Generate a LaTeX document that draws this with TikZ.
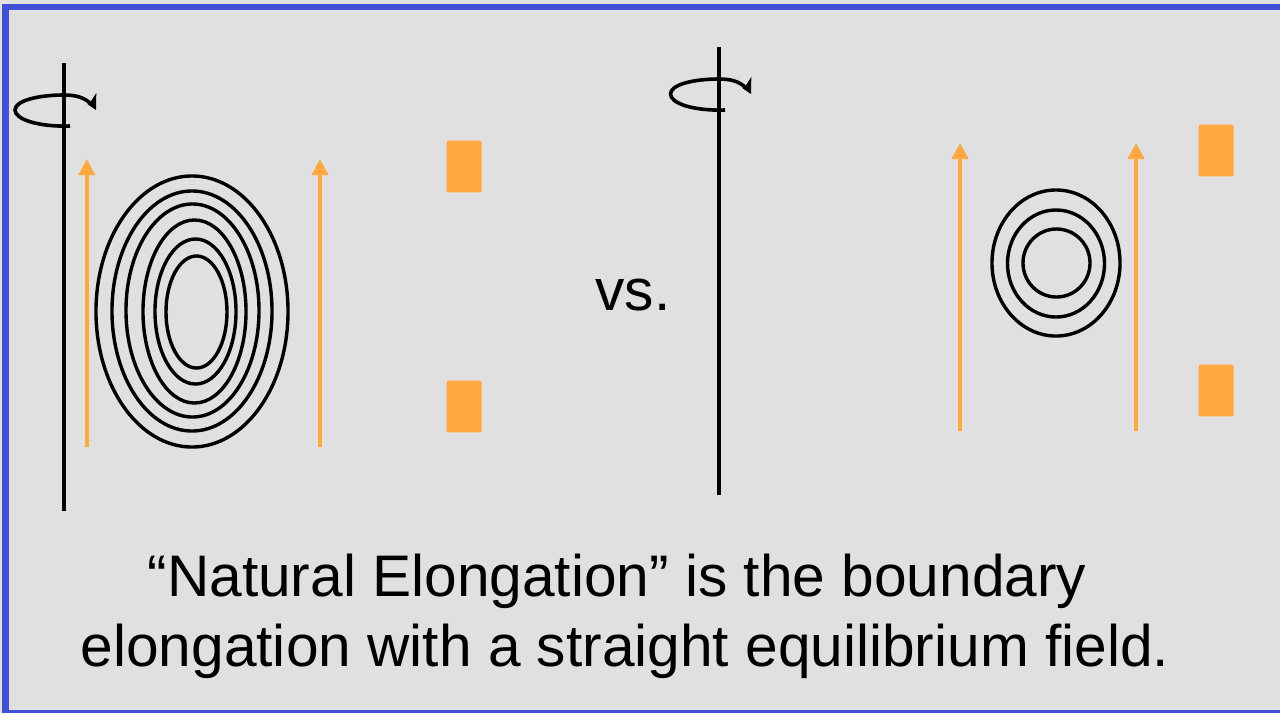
\documentclass[tikz,border=0pt]{standalone}
\usepackage{fontspec}
\usepackage{xcolor}
\setmainfont{Liberation Sans}
\usetikzlibrary{shapes.geometric, arrows.meta, positioning}
\definecolor{FrameBlue}{HTML}{4050D8}
\definecolor{PanelGray}{HTML}{E0E0E0}
\definecolor{CoilOrange}{HTML}{FFA940}
\tikzset{
    % Node styles
    coilbox/.style={
        rectangle,
        rounded corners=0.03cm,
        fill=CoilOrange,
        minimum width=0.875cm,
        minimum height=1.29cm,
        inner sep=0pt,
        outer sep=0pt
    },
    fluxloop/.style={
        ellipse,
        draw=black,
        line width=0.085cm,
        inner sep=0pt,
        outer sep=0pt
    },
    captiontext/.style={
        font=\fontsize{41.7}{50}\selectfont,
        align=center,
        inner sep=0pt
    },
    % Line styles
    axisline/.style={
        draw=black,
        line width=0.09cm
    },
    spinline/.style={
        draw=black,
        line width=0.09cm
    },
    spintip/.style={
        fill=black,
        draw=none
    },
    fieldarrow/.style={
        draw=CoilOrange,
        line width=0.1cm,
        -{Triangle[length=0.4cm,width=0.4cm,fill=CoilOrange]}
    }
}
\begin{document}
\begin{tikzpicture}[x=0.025cm,y=-0.025cm]
    % Page
    \useasboundingbox (0,0) rectangle (1280,713);
    \fill[PanelGray] (0,0) rectangle (1280,713);
    \fill[FrameBlue] (2,4) rectangle (1280,713);
    \fill[PanelGray] (8.5,10) rectangle (1280,710);

    % Left rotation axis
    \coordinate (axisAtop) at (64,63);
    \coordinate (axisAbot) at (64,511);
    \draw[axisline] (axisAtop) -- (axisAbot);
    \draw[spinline] (70,126) .. controls (37,127) and (15,119) .. (15,110) .. controls (15,101) and (37,95) .. (64,95) .. controls (75,95) and (84,97) .. (91,104);
    \fill[spintip] (96.3,93) -- (96,110) -- (87.3,104) -- (90.7,101.7) -- cycle;

    % Left field arrows
    \coordinate (fieldAa) at (86.8,447);
    \coordinate (fieldAb) at (86.8,159);
    \coordinate (fieldBa) at (320,447);
    \coordinate (fieldBb) at (320,159);
    \draw[fieldarrow] (fieldAa) -- (fieldAb);
    \draw[fieldarrow] (fieldBa) -- (fieldBb);

    % Left flux surfaces
    \node[fluxloop,minimum width=4.8cm,minimum height=6.775cm] (loopA1) at (192,311.5) {};
    \node[fluxloop,minimum width=4cm,minimum height=6cm] (loopA2) at (192,311) {};
    \node[fluxloop,minimum width=3.325cm,minimum height=5.325cm] (loopA3) at (192.5,310.5) {};
    \node[fluxloop,minimum width=2.575cm,minimum height=4.575cm] (loopA4) at (194.5,311.5) {};
    \node[fluxloop,minimum width=2.025cm,minimum height=3.625cm] (loopA5) at (195.5,311.5) {};
    \node[fluxloop,minimum width=1.525cm,minimum height=2.8cm] (loopA6) at (196.5,312) {};

    % Left coils
    \node[coilbox] (coilAtop) at (464,166.5) {};
    \node[coilbox] (coilAbot) at (464,406.5) {};

    % Middle label
    \node[font=\fontsize{41.7}{50}\selectfont,inner sep=0pt] (versus) at (633,295) {vs.};

    % Right rotation axis
    \coordinate (axisBtop) at (719,47);
    \coordinate (axisBbot) at (719,495);
    \draw[axisline] (axisBtop) -- (axisBbot);
    \draw[spinline] (725,110) .. controls (692,111) and (670.5,103) .. (670.5,94) .. controls (670.5,85) and (692,79) .. (719,79) .. controls (730,79) and (739,81) .. (746,88);
    \fill[spintip] (751.3,77) -- (751,94) -- (742.3,88) -- (745.7,85.7) -- cycle;

    % Right field arrows
    \coordinate (fieldCa) at (960,431);
    \coordinate (fieldCb) at (960,143);
    \coordinate (fieldDa) at (1136,431);
    \coordinate (fieldDb) at (1136,143);
    \draw[fieldarrow] (fieldCa) -- (fieldCb);
    \draw[fieldarrow] (fieldDa) -- (fieldDb);

    % Right flux surfaces
    \node[fluxloop,minimum width=3.2cm,minimum height=3.65cm] (loopB1) at (1056,263) {};
    \node[fluxloop,minimum width=2.425cm,minimum height=2.675cm] (loopB2) at (1056,263.5) {};
    \node[fluxloop,minimum width=1.675cm,minimum height=1.7cm] (loopB3) at (1056.5,263) {};

    % Right coils
    \node[coilbox] (coilBtop) at (1216,150.5) {};
    \node[coilbox] (coilBbot) at (1216,390.5) {};

    % Caption
    \node[captiontext] (captionA) at (617,581) {“Natural Elongation” is the boundary};
    \node[captiontext] (captionB) at (625,651) {elongation with a straight equilibrium field.};
\end{tikzpicture}
\end{document}
